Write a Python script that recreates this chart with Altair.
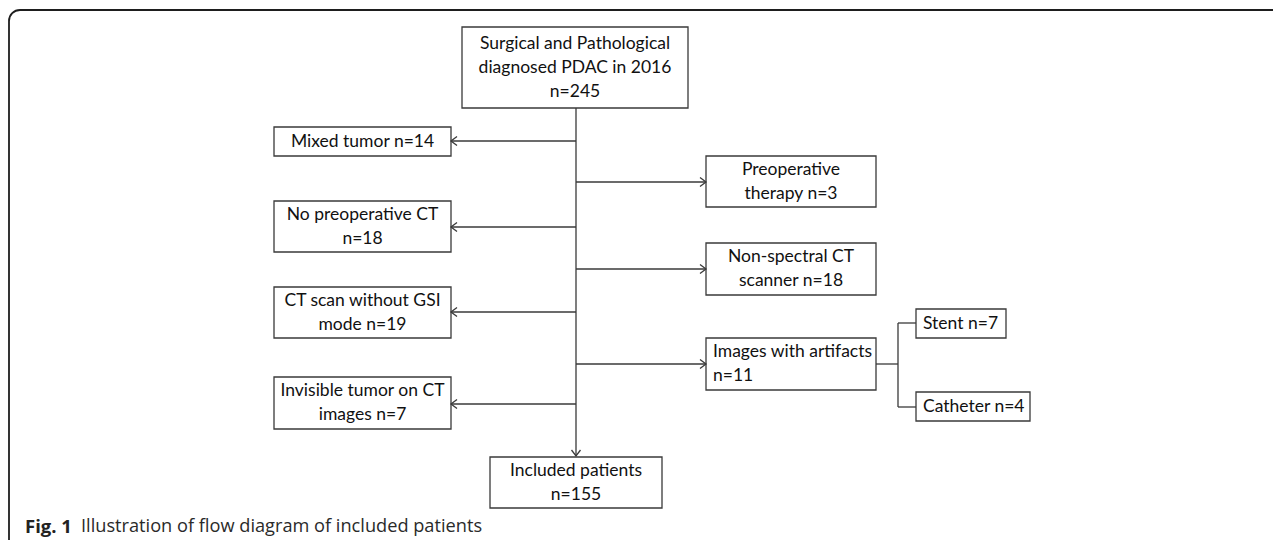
import altair as alt
import pandas as pd

# ---- flowchart content (pixel-space coordinates) ----
box_labels = [
    "Surgical and Pathological\ndiagnosed PDAC in 2016\nn=245",
    "Mixed tumor n=14",
    "Preoperative\ntherapy n=3",
    "No preoperative CT\nn=18",
    "Non-spectral CT\nscanner n=18",
    "CT scan without GSI\nmode n=19",
    "Images with artifacts\nn=11",
    "Stent n=7",
    "Catheter n=4",
    "Invisible tumor on CT\nimages n=7",
    "Included patients\nn=155",
]
box_x1 = [462, 274, 706, 274, 706, 274, 706, 916, 916, 274, 490]
box_x2 = [688, 451, 876, 451, 876, 451, 876, 1006, 1030, 451, 662]
box_y1 = [27, 127, 156, 201, 243, 287, 338, 309, 392, 377, 457]
box_y2 = [108, 156, 207, 252, 295, 338, 390, 338, 421, 429, 508]
box_align = ["center", "center", "center", "center", "center", "center",
             "left", "left", "left", "center", "center"]

# connector segments
seg_x1 = [576, 576, 576, 576, 576, 576, 576, 576, 876, 898, 898, 898]
seg_x2 = [576, 451, 451, 451, 451, 706, 706, 706, 898, 898, 916, 916]
seg_y1 = [108, 141, 227, 312, 404, 182, 269, 364, 364, 323, 323, 407]
seg_y2 = [456, 141, 227, 312, 404, 182, 269, 364, 364, 407, 323, 407]

# arrow heads (tip position + direction in degrees)
head_x = [451, 451, 451, 451, 706, 706, 706, 576]
head_y = [141, 227, 312, 404, 182, 269, 364, 456]
head_angle = [180, 180, 180, 180, 0, 0, 0, 90]

caption_parts = ["Fig. 1", "Illustration of flow diagram of included patients"]
caption_x = [25, 81]
caption_y = [527, 527]
caption_weight = ["bold", "normal"]

# ---- tables ----
boxes = pd.DataFrame({"x1": box_x1, "x2": box_x2, "y1": box_y1, "y2": box_y2})

rows = []
for lab, a, b, c, d, al in zip(box_labels, box_x1, box_x2, box_y1, box_y2, box_align):
    lines = lab.split("\n")
    n = len(lines)
    cy = (c + d) / 2
    for i, ln in enumerate(lines):
        rows.append({
            "text": ln,
            "x": (a + b) / 2 if al == "center" else a + 7,
            "y": cy + (i - (n - 1) / 2) * 24,
            "align": al,
        })
texts = pd.DataFrame(rows)

segs = pd.DataFrame({"x1": seg_x1, "x2": seg_x2, "y1": seg_y1, "y2": seg_y2})
heads = pd.DataFrame({"x": head_x, "y": head_y, "angle": head_angle})
caption = pd.DataFrame({"text": caption_parts, "x": caption_x, "y": caption_y,
                        "w": caption_weight})
frame = pd.DataFrame({"x1": [9], "x2": [1400], "y1": [10], "y2": [800]})

W, H = 1265, 532
xs = alt.Scale(domain=[8, 8 + W], nice=False, zero=False)
ys = alt.Scale(domain=[8, 8 + H], nice=False, zero=False, reverse=True)

LINE = "#3a3a3a"
FONT = "Lato"
FS = 17.5

frame_layer = alt.Chart(frame).mark_rect(
    cornerRadius=11, fillOpacity=0, stroke="#1e1e1e", strokeWidth=1.8, clip=True
).encode(
    x=alt.X("x1:Q", scale=xs, axis=None), x2="x2:Q",
    y=alt.Y("y1:Q", scale=ys, axis=None), y2="y2:Q",
)

seg_layer = alt.Chart(segs).mark_rule(color=LINE, strokeWidth=1.3).encode(
    x=alt.X("x1:Q", scale=xs, axis=None), x2="x2:Q",
    y=alt.Y("y1:Q", scale=ys, axis=None), y2="y2:Q",
)

box_layer = alt.Chart(boxes).mark_rect(
    fill="white", stroke=LINE, strokeWidth=1.3
).encode(
    x=alt.X("x1:Q", scale=xs, axis=None), x2="x2:Q",
    y=alt.Y("y1:Q", scale=ys, axis=None), y2="y2:Q",
)

head_layer = alt.Chart(heads).mark_point(
    shape="M-1,-0.75L0,0L-1,0.75", size=144, filled=False,
    stroke=LINE, strokeWidth=1.3, opacity=1
).encode(
    x=alt.X("x:Q", scale=xs, axis=None),
    y=alt.Y("y:Q", scale=ys, axis=None),
    angle=alt.Angle("angle:Q", scale=None),
)

text_center = alt.Chart(texts[texts["align"] == "center"]).mark_text(
    font=FONT, fontSize=FS, color="#111111", align="center", baseline="middle"
).encode(
    x=alt.X("x:Q", scale=xs, axis=None),
    y=alt.Y("y:Q", scale=ys, axis=None),
    text="text:N",
)

text_left = alt.Chart(texts[texts["align"] == "left"]).mark_text(
    font=FONT, fontSize=FS, color="#111111", align="left", baseline="middle"
).encode(
    x=alt.X("x:Q", scale=xs, axis=None),
    y=alt.Y("y:Q", scale=ys, axis=None),
    text="text:N",
)

cap_bold = alt.Chart(caption[caption["w"] == "bold"]).mark_text(
    font="Open Sans", fontSize=18.5, fontWeight="bold", color="#222222",
    align="left", baseline="middle"
).encode(
    x=alt.X("x:Q", scale=xs, axis=None),
    y=alt.Y("y:Q", scale=ys, axis=None),
    text="text:N",
)

cap_plain = alt.Chart(caption[caption["w"] == "normal"]).mark_text(
    font="Open Sans", fontSize=18.2, fontWeight="normal", color="#2a2a2a",
    align="left", baseline="middle"
).encode(
    x=alt.X("x:Q", scale=xs, axis=None),
    y=alt.Y("y:Q", scale=ys, axis=None),
    text="text:N",
)

chart = alt.layer(
    frame_layer, seg_layer, box_layer, head_layer,
    text_center, text_left, cap_bold, cap_plain
).properties(
    width=W, height=H, padding=0,
    autosize=alt.AutoSizeParams(type="none"),
    background="white",
).configure_view(strokeWidth=0)

chart.save("out.html", embed_options={"renderer": "svg", "actions": False})
